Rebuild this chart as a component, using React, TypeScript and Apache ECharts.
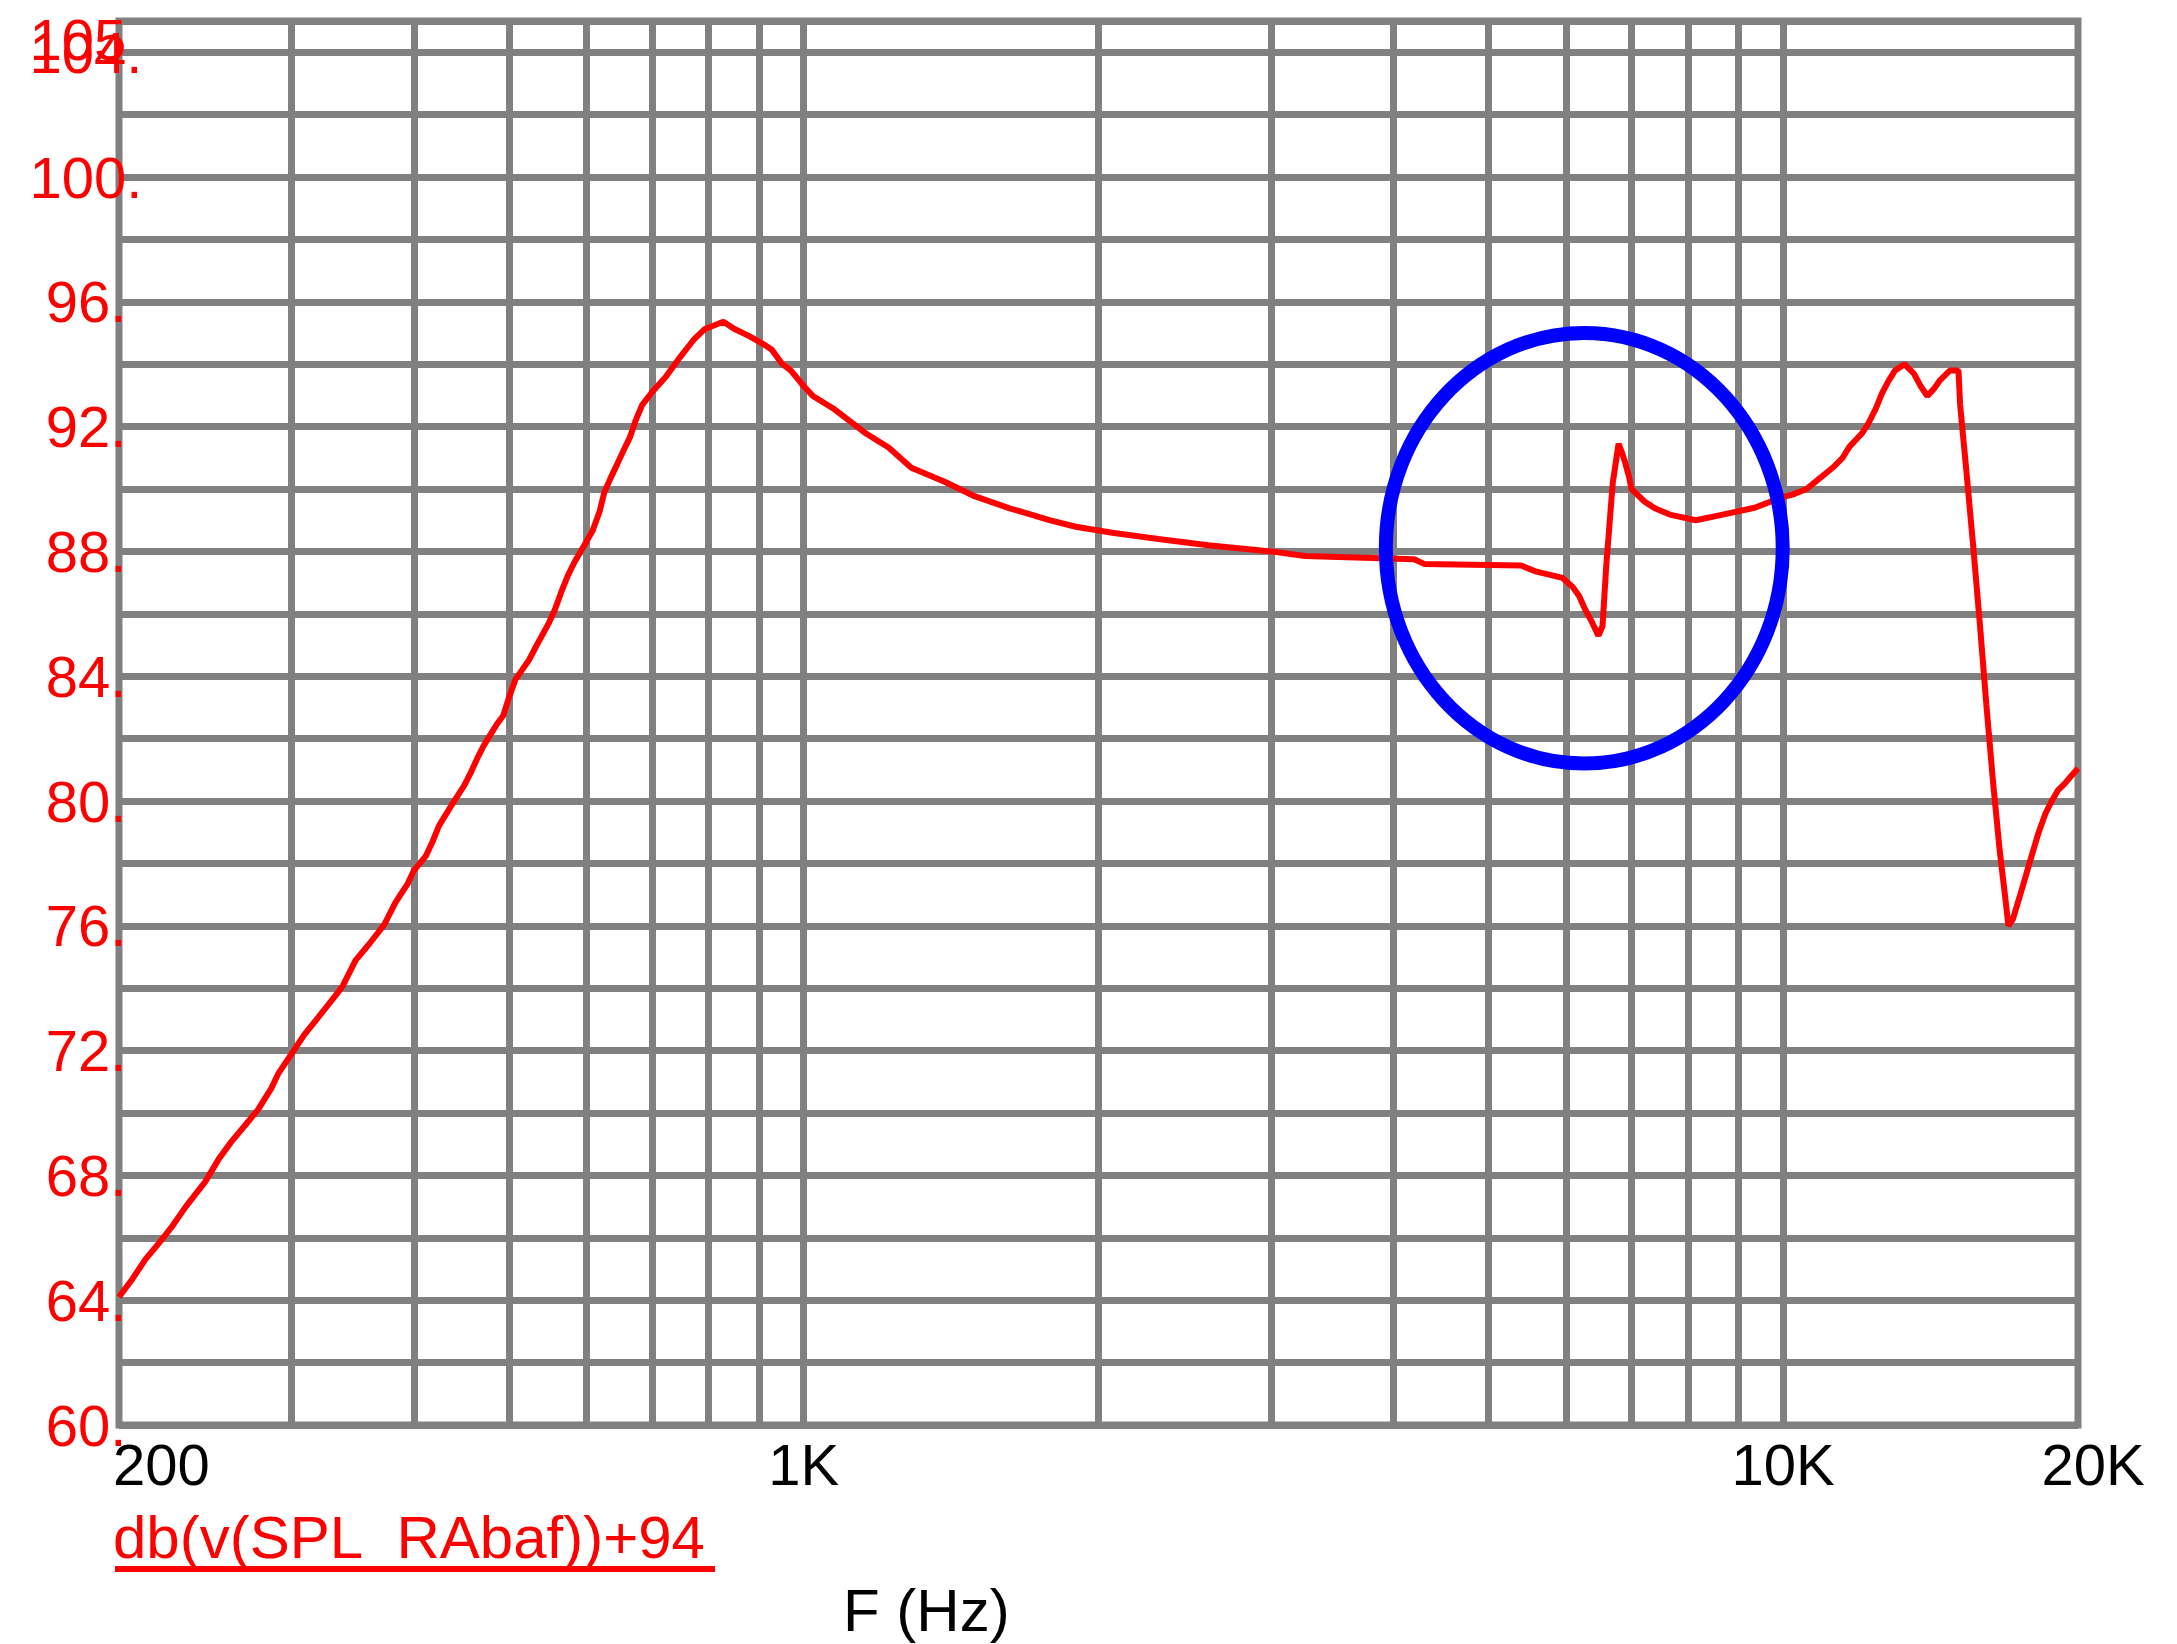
import React, { useEffect, useRef } from 'react';
import * as echarts from 'echarts';

// Frequency response trace (Hz, dB)
const freqHz = [
  200, 206.5, 212.8, 219.6, 226.3, 233.9, 245, 252.9, 260.6, 268.9, 277.2, 286.2, 290.8, 300,
  309.2, 318.6, 333.6, 338.5, 348.9, 359.8, 373, 383, 394.4, 400, 411.7, 418, 424.4, 437.6,
  450.5, 457.4, 464.5, 471.7, 485.9, 493.4, 500, 507.8, 524.1, 532.4, 549.5, 557.3, 565.7,
  574.6, 583.6, 600, 609, 619, 626, 635, 645, 655, 665, 674, 684, 700, 723, 748, 773, 793,
  828, 850, 880, 907, 928, 950, 970, 1000, 1022, 1071, 1114, 1159, 1221, 1288, 1393, 1489,
  1623, 1721, 1782, 1896, 2066, 2302, 2588, 3000, 3250, 4200, 4300, 5400, 5600, 5954, 6095,
  6190, 6281, 6378, 6478, 6540, 6600, 6700, 6792, 6840, 6890, 6960, 7000, 7108, 7218, 7396,
  7661, 8145, 8675, 9353, 10000, 10221, 10565, 10817, 11233, 11500, 11683, 11868, 12047,
  12218, 12430, 12618, 12808, 13010, 13300, 13600, 13815, 14034, 14245, 14470, 14805, 15100,
  15160, 15382, 15624, 15872, 16123, 16380, 16640, 16900, 16980, 17155, 17426, 17690, 17956,
  18236, 18527, 18803, 19087, 19375, 19682, 20000,
];
const splDb = [
  64.1, 64.69, 65.31, 65.82, 66.34, 66.99, 67.8, 68.53, 69.09, 69.6, 70.1, 70.8, 71.26, 71.89,
  72.51, 73.02, 73.81, 74.08, 74.9, 75.4, 76.03, 76.74, 77.36, 77.77, 78.25, 78.7, 79.21, 79.89,
  80.51, 80.92, 81.38, 81.79, 82.45, 82.73, 83.3, 83.89, 84.51, 84.92, 85.71, 86.14, 86.7,
  87.23, 87.66, 88.31, 88.67, 89.28, 89.9, 90.34, 90.79, 91.24, 91.67, 92.21, 92.69, 93.1, 93.59,
  94.23, 94.8, 95.13, 95.36, 95.13, 94.9, 94.67, 94.46, 94.02, 93.8, 93.3, 92.98, 92.59, 92.18,
  91.77, 91.33, 90.68, 90.23, 89.79, 89.38, 89.15, 89.0, 88.79, 88.6, 88.4, 88.2, 88.0, 87.85,
  87.75, 87.6, 87.55, 87.35, 87.15, 86.87, 86.57, 86.13, 85.74, 85.3, 85.6, 87.6, 90.2, 91.45,
  91.2, 90.9, 90.4, 90.0, 89.8, 89.6, 89.38, 89.18, 89.0, 89.18, 89.4, 89.75, 89.82, 90.0,
  90.26, 90.68, 91.0, 91.35, 91.58, 91.8, 92.1, 92.57, 93.07, 93.46, 93.8, 94.0, 93.7, 93.3,
  92.98, 93.2, 93.5, 93.8, 93.8, 92.7, 90.6, 88.25, 85.75, 83.1, 80.6, 78.4, 76.6, 76.0, 76.2,
  76.9, 77.6, 78.3, 79.0, 79.6, 80.0, 80.35, 80.55, 80.8, 81.05,
];

// Vertical grid lines (log decades subdivisions)
const gridFreqs = [300, 400, 500, 600, 700, 800, 900, 1000, 2000, 3000, 4000, 5000, 6000, 7000, 8000, 9000, 10000];

// Tick labels
const xTickValues = [200, 1000, 10000, 20000];
const xTickLabels = ['200', '1K', '10K', '20K'];
const yLabelValues = [60, 64, 68, 72, 76, 80, 84, 88, 92, 96, 100, 104];
const yTopValue = 105;
const yTopLabel = '105';

// Highlight ellipse: [fLeft, fRight, dbBottom, dbTop]
const highlightEllipse = [3930, 9990, 81.2, 95.0];

const traceName = 'db(v(SPL_RAbaf))+94';
const axisTitle = 'F (Hz)';

export default function App() {
  const ref = useRef<HTMLDivElement>(null);

  useEffect(() => {
    const chart = echarts.init(ref.current as HTMLDivElement, null, { renderer: 'svg' });
    const font = '"Liberation Sans", Arial, sans-serif';
    const gray = '#808080';
    const red = '#FF0000';

    const xFormatter = (v: number) => {
      let best = 0;
      let bestErr = Infinity;
      xTickValues.forEach((t, i) => {
        const e = Math.abs(Math.log10(v) - Math.log10(t));
        if (e < bestErr) { bestErr = e; best = i; }
      });
      if (bestErr > 0.01) return '';
      if (best === 0) return '{first|' + xTickLabels[best] + '}';
      if (best === xTickValues.length - 1) return '{last|' + xTickLabels[best] + '}';
      return xTickLabels[best];
    };

    const yFormatter = (v: number) => {
      const hit = yLabelValues.find((t) => Math.abs(t - v) < 1e-6);
      return hit !== undefined ? hit + '.' : '';
    };

    const yTopFormatter = (v: number) => (Math.abs(v - yTopValue) < 1e-6 ? '{top|' + yTopLabel + '}' : '');

    chart.setOption({
      animation: false,
      backgroundColor: '#ffffff',
      grid: {
        left: 119,
        right: 99,
        top: 21,
        bottom: 219,
        show: true,
        borderColor: gray,
        borderWidth: 7,
        backgroundColor: 'transparent',
        containLabel: false,
      },
      xAxis: {
        type: 'log',
        logBase: 10,
        min: 200,
        max: 20000,
        axisLine: { show: false },
        axisTick: { show: false },
        splitLine: { show: false },
        axisLabel: {
          show: true,
          color: '#000000',
          fontSize: 58,
          fontFamily: font,
          margin: 39,
          verticalAlign: 'middle',
          showMinLabel: true,
          showMaxLabel: true,
          formatter: xFormatter,
          rich: {
            first: { fontSize: 58, fontFamily: font, color: '#000000', padding: [0, 0, 0, 85] },
            last: { fontSize: 58, fontFamily: font, color: '#000000', padding: [0, 0, 0, 30] },
          },
        },
      },
      yAxis: [
        {
          type: 'value',
          min: 60,
          max: 105,
          interval: 2,
          axisLine: { show: false },
          axisTick: { show: false },
          splitLine: { show: true, lineStyle: { color: gray, width: 7 } },
          axisLabel: {
            show: true,
            color: red,
            fontSize: 58,
            fontFamily: font,
            align: 'center',
            margin: 33,
            showMinLabel: true,
            showMaxLabel: false,
            formatter: yFormatter,
          },
        },
        {
          type: 'value',
          min: 60,
          max: 105,
          interval: 45,
          position: 'left',
          offset: 0,
          axisLine: { show: false },
          axisTick: { show: false },
          splitLine: { show: false },
          axisLabel: {
            show: true,
            color: red,
            fontSize: 58,
            fontFamily: font,
            align: 'center',
            margin: 33,
            showMinLabel: false,
            showMaxLabel: true,
            formatter: yTopFormatter,
            rich: {
              top: { fontSize: 58, fontFamily: font, color: red, padding: [36, 16, 0, 0] },
            },
          },
        },
      ],
      series: [
        {
          type: 'line',
          data: freqHz.map((f, i) => [f, splDb[i]]),
          showSymbol: false,
          symbol: 'none',
          silent: true,
          z: 3,
          lineStyle: { color: red, width: 6 },
          markLine: {
            silent: true,
            z: 1,
            symbol: ['none', 'none'],
            label: { show: false },
            lineStyle: { color: gray, width: 7, type: 'solid' },
            emphasis: { disabled: true },
            data: gridFreqs.map((f) => ({ xAxis: f })),
          },
        },
        {
          type: 'custom',
          silent: true,
          z: 5,
          data: [highlightEllipse],
          encode: { x: [0, 1], y: [2, 3] },
          renderItem: (params: any, api: any) => {
            const p1 = api.coord([api.value(0), api.value(3)]);
            const p2 = api.coord([api.value(1), api.value(2)]);
            return {
              type: 'ellipse',
              shape: {
                cx: (p1[0] + p2[0]) / 2,
                cy: (p1[1] + p2[1]) / 2,
                rx: Math.abs(p2[0] - p1[0]) / 2,
                ry: Math.abs(p2[1] - p1[1]) / 2,
              },
              style: { fill: 'none', stroke: '#0000FF', lineWidth: 14 },
            };
          },
        },
      ],
      graphic: [
        {
          type: 'text',
          silent: true,
          style: {
            text: traceName,
            x: 113,
            y: 1537,
            fill: red,
            font: '60px ' + font,
            verticalAlign: 'middle',
          },
        },
        {
          type: 'line',
          silent: true,
          shape: { x1: 115, y1: 1569, x2: 715, y2: 1569 },
          style: { stroke: red, lineWidth: 6 },
        },
        {
          type: 'text',
          silent: true,
          style: {
            text: axisTitle,
            x: 843,
            y: 1610,
            fill: '#000000',
            font: '60px ' + font,
            verticalAlign: 'middle',
          },
        },
      ],
    });

    return () => {
      chart.dispose();
    };
  }, []);

  return (
    <div
      ref={ref}
      style={{ position: 'absolute', left: 0, top: 0, width: 2177, height: 1644, background: '#ffffff' }}
    />
  );
}
